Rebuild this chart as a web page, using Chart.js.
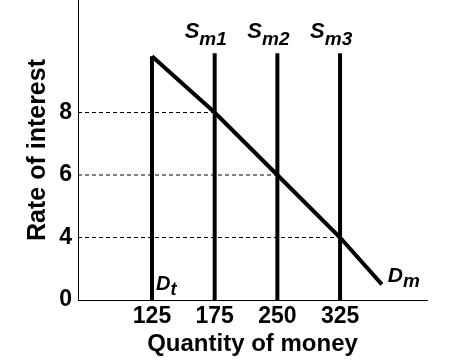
<!DOCTYPE html>
<html>
<head>
<meta charset="utf-8">
<script src="https://cdn.jsdelivr.net/npm/chart.js@4.4.1/dist/chart.umd.min.js"></script>
<style>
  html, body { margin: 0; padding: 0; background: #ffffff; }
  #wrap { width: 452px; height: 360px; position: relative; }
</style>
</head>
<body>
<div id="wrap"><canvas id="c" width="452" height="360"></canvas></div>
<script>
// ---- data ----
const xTicks = [125, 175, 250, 325];          // quantity of money tick labels
const yTicks = [0, 4, 6, 8];                  // rate of interest tick labels
const dtQuantity = 125;                       // D_t (transactions demand)
const dtTop = 9.8;
const supplyQuantities = [175, 250, 325];     // S_m1, S_m2, S_m3
const supplyNames = ['1', '2', '3'];
const supplyTop = 9.9;
const demandQuantity = [125, 175, 250, 325, 375]; // D_m curve
const demandRate = [9.8, 8, 6, 4, 1];
const equilibriumRates = [8, 6, 4];           // dashed guide levels
const xRange = [66, 429];
const yRange = [0, 11.6];

// scale that spaces the labelled ticks evenly (schematic axis)
class EvenTickScale extends Chart.LinearScale {
  static id = 'evenTicks';
  static defaults = Chart.LinearScale.defaults;
  _idx(v) {
    const k = this.options.knots;
    let i = 0;
    while (i < k.length - 2 && v > k[i + 1]) i++;
    return i + (v - k[i]) / (k[i + 1] - k[i]);
  }
  _val(u) {
    const k = this.options.knots;
    let i = Math.floor(u);
    i = Math.max(0, Math.min(k.length - 2, i));
    return k[i] + (u - i) * (k[i + 1] - k[i]);
  }
  determineDataLimits() {
    this.min = this.options.min;
    this.max = this.options.max;
  }
  buildTicks() {
    return this.options.knots.map(v => ({ value: v }));
  }
  getPixelForValue(v) {
    if (v === null || v === undefined || isNaN(v)) return NaN;
    const a = this._idx(this.min), b = this._idx(this.max);
    return this.getPixelForDecimal((this._idx(v) - a) / (b - a));
  }
  getValueForPixel(p) {
    const a = this._idx(this.min), b = this._idx(this.max);
    return this._val(a + this.getDecimalForPixel(p) * (b - a));
  }
}
Chart.register(EvenTickScale);

const FONT = "'Liberation Sans', Arial, sans-serif";
const BLACK = '#000000';

const datasets = [];
// dashed guides
equilibriumRates.forEach((r, i) => {
  datasets.push({
    data: [{ x: xRange[0], y: r }, { x: supplyQuantities[i], y: r }],
    borderColor: BLACK, borderWidth: 1, borderDash: [4, 3], pointRadius: 0
  });
});
// D_t
datasets.push({
  data: [{ x: dtQuantity, y: 0 }, { x: dtQuantity, y: dtTop }],
  borderColor: BLACK, borderWidth: 4, pointRadius: 0
});
// supply lines
supplyQuantities.forEach(q => {
  datasets.push({
    data: [{ x: q, y: 0 }, { x: q, y: supplyTop }],
    borderColor: BLACK, borderWidth: 4, pointRadius: 0
  });
});
// D_m
datasets.push({
  data: demandQuantity.map((q, i) => ({ x: q, y: demandRate[i] })),
  borderColor: BLACK, borderWidth: 4, pointRadius: 0, tension: 0
});

function drawSub(ctx, x, y, main, sub, mainSize, subSize, drop) {
  ctx.font = `italic bold ${mainSize}px ${FONT}`;
  ctx.fillText(main, x, y);
  const w = ctx.measureText(main).width;
  ctx.font = `italic bold ${subSize}px ${FONT}`;
  ctx.fillText(sub, x + w, y + drop);
}

const labelPlugin = {
  id: 'curveLabels',
  afterDatasetsDraw(chart) {
    const { ctx, scales: { x, y } } = chart;
    ctx.save();
    ctx.fillStyle = BLACK;
    ctx.textBaseline = 'alphabetic';
    ctx.textAlign = 'left';
    supplyQuantities.forEach((q, i) => {
      const px = x.getPixelForValue(q);
      const py = y.getPixelForValue(supplyTop);
      drawSub(ctx, px - 30, py - 15, 'S', 'm' + supplyNames[i], 22, 19, 7);
    });
    const dx = x.getPixelForValue(dtQuantity);
    const dy = y.getPixelForValue(0);
    drawSub(ctx, dx + 4, dy - 10, 'D', 't', 20, 18, 5);
    const n = demandQuantity.length - 1;
    const ex = x.getPixelForValue(demandQuantity[n]);
    const ey = y.getPixelForValue(demandRate[n]);
    drawSub(ctx, ex + 6, ey - 2, 'D', 'm', 21, 19, 5);
    ctx.restore();
  }
};

new Chart(document.getElementById('c'), {
  type: 'line',
  data: { datasets },
  plugins: [labelPlugin],
  options: {
    responsive: false,
    animation: false,
    events: [],
    layout: { autoPadding: false, padding: { left: 0, right: 25, top: 0, bottom: 0 } },
    plugins: { legend: { display: false }, tooltip: { enabled: false } },
    scales: {
      x: {
        type: 'evenTicks',
        knots: xTicks,
        min: xRange[0], max: xRange[1],
        grid: { display: false, drawTicks: false },
        border: { display: true, color: BLACK, width: 1 },
        ticks: { color: BLACK, font: { family: FONT, size: 23, weight: 'bold' }, padding: 3, autoSkip: false, maxRotation: 0 },
        title: { display: true, text: 'Quantity of money', color: BLACK, font: { family: FONT, size: 24, weight: 'bold' }, padding: { top: 0, bottom: 1 } },
        afterFit(s) { s.height = 60; s.paddingLeft = 0; s.paddingRight = 0; }
      },
      y: {
        type: 'evenTicks',
        knots: yTicks,
        min: yRange[0], max: yRange[1],
        grid: { display: false, drawTicks: false },
        border: { display: true, color: BLACK, width: 1 },
        ticks: { color: BLACK, font: { family: FONT, size: 23, weight: 'bold' }, padding: 6, autoSkip: false },
        title: { display: true, text: 'Rate of interest', color: BLACK, font: { family: FONT, size: 25, weight: 'bold' }, padding: { top: 23, bottom: 0 } },
        afterFit(s) { s.width = 78; s.paddingTop = 0; s.paddingBottom = 0; }
      }
    }
  }
});
</script>
</body>
</html>
